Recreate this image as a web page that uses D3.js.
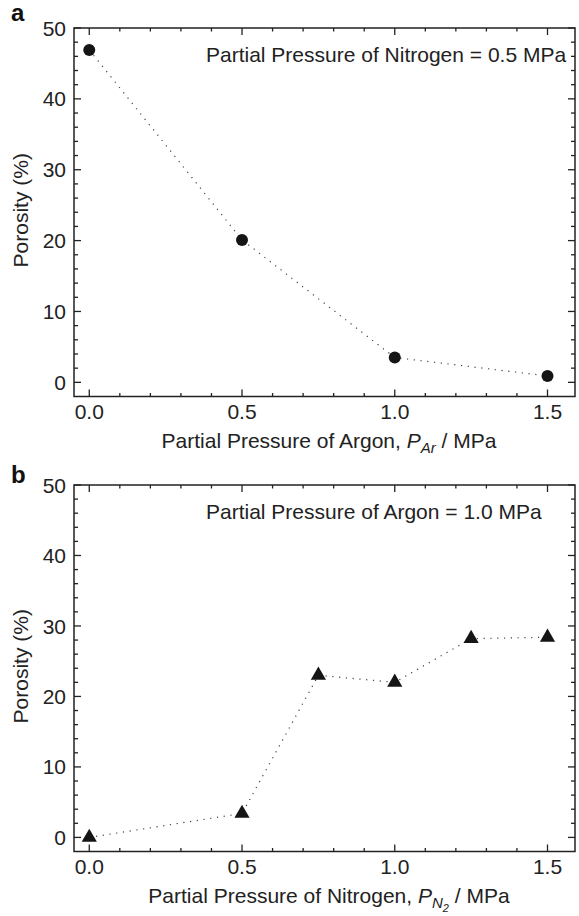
<!DOCTYPE html>
<html>
<head>
  <script src="https://d3js.org/d3.v7.min.js"></script>
  <style>
    body { margin: 0; background: #fff; font-family: "Liberation Sans", Arial, Helvetica, sans-serif; }
    .frame { fill: none; stroke: #222; stroke-width: 1.5; }
    .tick-line { stroke: #222; stroke-width: 1.3; }
    .tick-label { font-size: 21px; fill: #222; }
    .axis-title { font-size: 21px; fill: #222; text-anchor: middle; }
    .note { font-size: 21px; fill: #222; }
    .panel-letter { font-size: 24px; font-weight: bold; fill: #111; }
    .link { fill: none; stroke: #444; stroke-width: 1.2; stroke-dasharray: 1.2,5.6; }
    .marker { fill: #151515; }
  </style>
</head>
<body>
  <div id="chart"></div>
  <script>
    // panel a: porosity vs argon pressure (N2 fixed at 0.5 MPa)
    const argonPressure = [0.0, 0.5, 1.0, 1.5];
    const porosityA = [46.9, 20.1, 3.5, 0.9];

    // panel b: porosity vs nitrogen pressure (Ar fixed at 1.0 MPa)
    const nitrogenPressure = [0.0, 0.5, 0.75, 1.0, 1.25, 1.5];
    const porosityB = [0.0, 3.4, 23.0, 22.0, 28.2, 28.4];

    const xTicks = [0.0, 0.5, 1.0, 1.5];
    const yTicks = [0, 10, 20, 30, 40, 50];

    const W = 579, H = 916;
    const svg = d3.select("#chart").append("svg")
      .attr("width", W).attr("height", H);

    function panel(opts) {
      const left = 74, right = 575;
      const x = d3.scaleLinear().domain([-0.05, 1.59]).range([left, right]);
      const y = d3.scaleLinear().domain([-2, 50]).range([opts.bottom, opts.top]);
      const g = svg.append("g");

      // minor + major ticks, drawn inward on all four sides
      const xMinor = d3.range(0, 1.51, 0.1);
      xMinor.forEach(v => {
        const major = xTicks.some(t => Math.abs(t - v) < 1e-6);
        const len = major ? 7 : 3.5;
        g.append("line").attr("class", "tick-line")
          .attr("x1", x(v)).attr("x2", x(v))
          .attr("y1", y.range()[0]).attr("y2", y.range()[0] - len);
        g.append("line").attr("class", "tick-line")
          .attr("x1", x(v)).attr("x2", x(v))
          .attr("y1", y.range()[1]).attr("y2", y.range()[1] + len);
      });
      const yMinor = d3.range(0, 50.1, 2);
      yMinor.forEach(v => {
        const major = v % 10 === 0;
        const len = major ? 7 : 4;
        g.append("line").attr("class", "tick-line")
          .attr("x1", left).attr("x2", left + len)
          .attr("y1", y(v)).attr("y2", y(v));
        g.append("line").attr("class", "tick-line")
          .attr("x1", right).attr("x2", right - len)
          .attr("y1", y(v)).attr("y2", y(v));
      });

      g.append("rect").attr("class", "frame")
        .attr("x", left).attr("y", opts.top)
        .attr("width", right - left).attr("height", opts.bottom - opts.top);

      // tick labels
      g.selectAll(".xl").data(xTicks).enter().append("text")
        .attr("class", "tick-label")
        .attr("x", d => x(d)).attr("y", opts.bottom + 22)
        .attr("text-anchor", "middle")
        .text(d => d.toFixed(1));
      g.selectAll(".yl").data(yTicks).enter().append("text")
        .attr("class", "tick-label")
        .attr("x", left - 8).attr("y", d => y(d))
        .attr("dy", "0.36em")
        .attr("text-anchor", "end")
        .text(d => d);

      // axis titles
      const xt = g.append("text").attr("class", "axis-title")
        .attr("x", 329).attr("y", opts.bottom + 51);
      opts.xTitle(xt);
      g.append("text").attr("class", "axis-title")
        .attr("transform", `translate(27.5,${(opts.top + opts.bottom) / 2 - 2}) rotate(-90)`)
        .text("Porosity (%)");

      g.append("text").attr("class", "panel-letter")
        .attr("x", 11).attr("y", opts.letterY)
        .text(opts.letter);

      g.append("text").attr("class", "note")
        .attr("x", 206).attr("y", opts.top + 34)
        .text(opts.note);

      const pts = opts.xs.map((v, i) => [v, opts.ys[i]]);
      g.append("path").attr("class", "link")
        .attr("d", d3.line().x(d => x(d[0])).y(d => y(d[1]))(pts));

      g.selectAll(".marker").data(pts).enter().append("path")
        .attr("class", "marker")
        .attr("transform", d => `translate(${x(d[0])},${y(d[1])})`)
        .attr("d", d3.symbol().type(opts.symbol).size(opts.size));
    }

    panel({
      top: 28, bottom: 396.5, letter: "a", letterY: 21,
      xs: argonPressure, ys: porosityA,
      symbol: d3.symbolCircle, size: Math.PI * 36,
      note: "Partial Pressure of Nitrogen = 0.5 MPa",
      xTitle: t => {
        t.append("tspan").text("Partial Pressure of Argon, ");
        t.append("tspan").attr("font-style", "italic").text("P");
        t.append("tspan").attr("font-style", "italic").attr("font-size", "15px").attr("dy", 5).text("Ar");
        t.append("tspan").attr("dy", -5).text(" / MPa");
      }
    });

    panel({
      top: 485, bottom: 851.5, letter: "b", letterY: 483,
      xs: nitrogenPressure, ys: porosityB,
      symbol: d3.symbolTriangle, size: 100,
      note: "Partial Pressure of Argon = 1.0 MPa",
      xTitle: t => {
        t.append("tspan").text("Partial Pressure of Nitrogen, ");
        t.append("tspan").attr("font-style", "italic").text("P");
        t.append("tspan").attr("font-style", "italic").attr("font-size", "15px").attr("dy", 5).text("N");
        t.append("tspan").attr("font-style", "italic").attr("font-size", "11px").attr("dy", 4).text("2");
        t.append("tspan").attr("dy", -9).text(" / MPa");
      }
    });
  </script>
</body>
</html>
